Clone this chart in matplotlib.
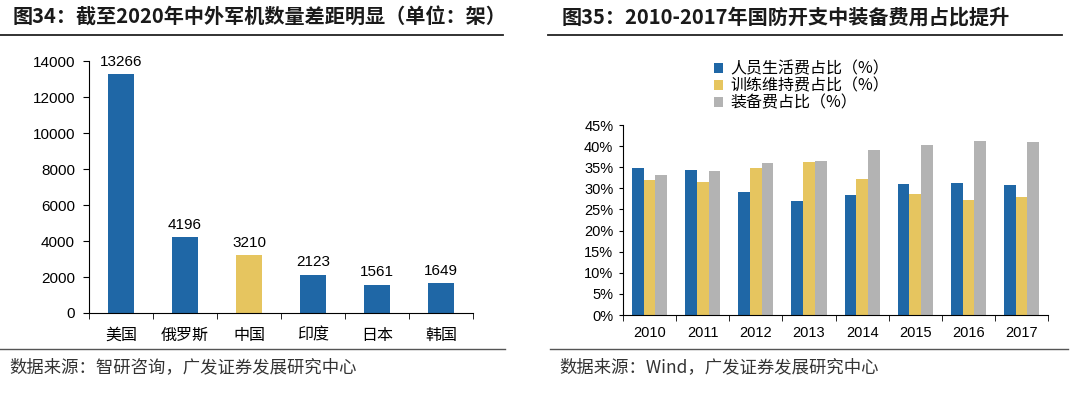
import numpy as np
import matplotlib
matplotlib.use("Agg")
import matplotlib.pyplot as plt
from matplotlib.lines import Line2D
from matplotlib.ticker import FixedLocator, PercentFormatter

plt.rcParams['font.family'] = ['Liberation Sans', 'Noto Sans CJK SC', 'DejaVu Sans']

###############################################################################
# datos
###############################################################################
paises = ['美国', '俄罗斯', '中国', '印度', '日本', '韩国']
aviones = [13266, 4196, 3210, 2123, 1561, 1649]

anios = ['2010', '2011', '2012', '2013', '2014', '2015', '2016', '2017']
personal = [34.8, 34.3, 29.2, 26.9, 28.5, 31.0, 31.2, 30.8]
entrenamiento = [31.9, 31.4, 34.8, 36.3, 32.3, 28.7, 27.3, 28.0]
equipo = [33.2, 34.1, 35.9, 36.5, 39.0, 40.2, 41.3, 41.0]
series_nombres = ['人员生活费占比（%）', '训练维持费占比（%）', '装备费占比（%）']

AZUL = '#1F67A6'
AMARILLO = '#E6C55F'
GRIS = '#B3B3B3'
CJK = ['Noto Sans CJK SC', 'DejaVu Sans']

fig = plt.figure(figsize=(10.8, 3.94), dpi=100)

###############################################################################
# titulos y lineas
###############################################################################
fig.text(0.012, 0.958, '图34：截至2020年中外军机数量差距明显（单位：架）',
         fontsize=14.5, fontweight='bold', family=CJK, va='center', color='#1a1a1a')
fig.text(0.520, 0.958, '图35：2010-2017年国防开支中装备费用占比提升',
         fontsize=14.5, fontweight='bold', family=CJK, va='center', color='#1a1a1a')
fig.add_artist(Line2D([0.0, 0.466], [0.911, 0.911], color='#222222', lw=1.3))
fig.add_artist(Line2D([0.507, 0.983], [0.911, 0.911], color='#222222', lw=1.3))
fig.add_artist(Line2D([0.0, 0.468], [0.114, 0.114], color='#555555', lw=1.0))
fig.add_artist(Line2D([0.509, 0.989], [0.114, 0.114], color='#555555', lw=1.0))
fig.text(0.009, 0.068, '数据来源：智研咨询，广发证券发展研究中心',
         fontsize=12.5, family=CJK, va='center', color='#333333')
fig.text(0.518, 0.068, '数据来源：Wind，广发证券发展研究中心',
         fontsize=12.5, family=CJK, va='center', color='#333333')

###############################################################################
# grafico izquierdo
###############################################################################
ax1 = fig.add_axes([0.0824, 0.2056, 0.3556, 0.6394])
x = np.arange(len(paises))
colores = [AMARILLO if p == '中国' else AZUL for p in paises]
barras = ax1.bar(x, aviones, width=0.4, color=colores)
for b, v in zip(barras, aviones):
    ax1.annotate(str(v), (b.get_x() + b.get_width() / 2, v), xytext=(0, 4),
                 textcoords='offset points', ha='center', va='bottom', fontsize=11)
ax1.set_xlim(-0.5, len(paises) - 0.5)
ax1.set_ylim(0, 14000)
ax1.set_yticks(np.arange(0, 14001, 2000))
ax1.set_xticks(x)
ax1.set_xticklabels(paises, family=CJK, fontsize=11.5)
ax1.xaxis.set_minor_locator(FixedLocator(np.arange(-0.5, len(paises), 1.0)))
ax1.tick_params(axis='x', which='major', length=0, pad=10)
ax1.tick_params(axis='x', which='minor', length=4, direction='out')
ax1.tick_params(axis='y', length=4, direction='out', labelsize=11, pad=6)
ax1.spines[['top', 'right']].set_visible(False)

###############################################################################
# grafico derecho
###############################################################################
ax2 = fig.add_axes([0.5769, 0.2005, 0.3935, 0.4822])
xa = np.arange(len(anios))
w = 0.22
ax2.bar(xa - w, personal, width=w, color=AZUL, label=series_nombres[0])
ax2.bar(xa, entrenamiento, width=w, color=AMARILLO, label=series_nombres[1])
ax2.bar(xa + w, equipo, width=w, color=GRIS, label=series_nombres[2])
ax2.set_xlim(-0.5, len(anios) - 0.5)
ax2.set_ylim(0, 45)
ax2.set_yticks(np.arange(0, 46, 5))
ax2.yaxis.set_major_formatter(PercentFormatter(decimals=0))
ax2.set_xticks(xa)
ax2.set_xticklabels(anios, fontsize=10.5)
ax2.xaxis.set_minor_locator(FixedLocator(np.arange(-0.5, len(anios), 1.0)))
ax2.tick_params(axis='x', which='major', length=0, pad=8)
ax2.tick_params(axis='x', which='minor', length=4, direction='out')
ax2.tick_params(axis='y', length=3, direction='out', labelsize=10.5, pad=4)
ax2.spines[['top', 'right']].set_visible(False)

leg = ax2.legend(loc='upper left', bbox_to_anchor=(0.655, 0.863), bbox_transform=fig.transFigure,
                 frameon=False, prop={'family': CJK, 'size': 11.5}, handlelength=0.55,
                 handleheight=0.55, handletextpad=0.5, labelspacing=0.0, borderaxespad=0)

fig.savefig('out.png', dpi=100)
